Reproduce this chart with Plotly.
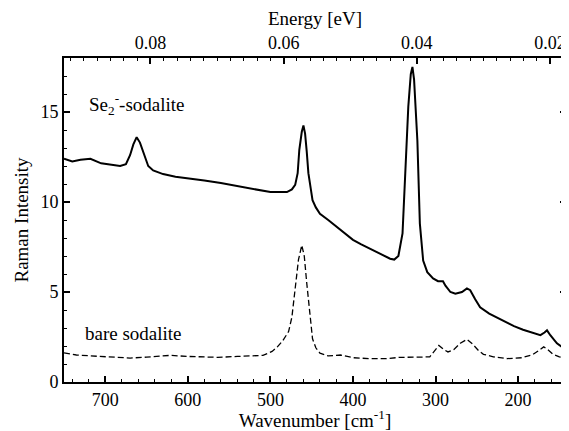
import plotly.graph_objects as go

# Se2- sodalite (solid)
se_wn = [750, 740, 730, 718, 705, 690, 682, 675, 670, 666, 662, 658, 653, 648, 642, 630, 615, 597,
         580, 560, 537, 520, 500, 480, 474, 470, 467, 465, 462, 460, 458, 456, 454, 451, 449, 445,
         440, 430, 419, 410, 400, 390, 379, 365, 355, 350, 345, 340, 337, 333, 330, 328, 326, 324,
         322, 319, 315, 310, 303, 297, 291, 288, 282, 276, 268, 262, 258, 252, 246, 235, 218, 205,
         194, 180, 173, 168, 165, 161, 157, 153, 147, 142]
se_int = [12.4, 12.25, 12.35, 12.4, 12.15, 12.05, 12.0, 12.1, 12.6, 13.2, 13.6, 13.3, 12.6, 12.0, 11.75,
          11.55, 11.4, 11.3, 11.2, 11.05, 10.85, 10.7, 10.55, 10.55, 10.7, 10.95, 11.6, 12.9, 13.9, 14.25,
          13.8, 12.8, 11.6, 10.7, 10.1, 9.7, 9.35, 9.0, 8.6, 8.25, 7.9, 7.65, 7.4, 7.05, 6.85, 6.8, 7.0,
          8.25, 11.2, 15.3, 17.1, 17.5, 16.8, 15.0, 13.4, 8.8, 6.75, 6.1, 5.75, 5.6, 5.6, 5.35, 5.0, 4.9,
          5.0, 5.2, 5.1, 4.6, 4.15, 3.8, 3.4, 3.1, 2.9, 2.7, 2.6, 2.75, 2.87, 2.6, 2.4, 2.15, 1.95, 1.75]

# bare sodalite (dashed)
bare_wn = [750, 735, 710, 690, 670, 650, 621, 600, 580, 564, 540, 509, 498, 492, 485, 478, 474, 470,
           466, 462, 459, 456, 452, 449, 445, 440, 430, 415, 400, 380, 360, 343, 320, 307, 300, 296,
           290, 285, 278, 270, 262, 255, 248, 242, 230, 213, 195, 182, 175, 169, 164, 158, 150, 142]
bare_int = [1.62, 1.5, 1.43, 1.38, 1.33, 1.38, 1.48, 1.42, 1.38, 1.37, 1.42, 1.48, 1.7, 1.93, 2.3, 2.8,
            3.6, 5.25, 6.8, 7.6, 7.0, 5.5, 3.6, 2.4, 1.9, 1.6, 1.45, 1.5, 1.35, 1.3, 1.3, 1.37, 1.38,
            1.4, 1.8, 2.03, 1.8, 1.67, 1.8, 2.15, 2.37, 2.1, 1.75, 1.54, 1.4, 1.3, 1.35, 1.53, 1.75,
            1.95, 1.8, 1.55, 1.4, 1.3]

x_ticks = [700, 600, 500, 400, 300, 200]
y_ticks = [0, 5, 10, 15]
e_ticks = [0.08, 0.06, 0.04, 0.02]
e_labels = ["0.08", "0.06", "0.04", "0.02"]
EV_PER_CM = 0.00012398
x_range = [750, 142]

FONT = "Liberation Serif"
fig = go.Figure()
fig.add_trace(go.Scatter(x=se_wn, y=se_int, mode="lines",
                         line=dict(color="black", width=2), showlegend=False))
fig.add_trace(go.Scatter(x=bare_wn, y=bare_int, mode="lines",
                         line=dict(color="black", width=1.3, dash="6px,3px"), showlegend=False))
# invisible trace to activate top axis
fig.add_trace(go.Scatter(x=[x_range[0] * EV_PER_CM], y=[0], xaxis="x2", mode="markers",
                         marker=dict(opacity=0), showlegend=False, hoverinfo="skip"))

fig.add_annotation(x=722, y=15.4, xref="x", yref="y", xanchor="left", yanchor="middle",
                   text="Se<sub>2</sub><sup>-</sup>-sodalite", showarrow=False,
                   font=dict(family=FONT, size=19, color="black"))
fig.add_annotation(x=727, y=2.7, xref="x", yref="y", xanchor="left", yanchor="middle",
                   text="bare sodalite", showarrow=False,
                   font=dict(family=FONT, size=19, color="black"))

axis_font = dict(family=FONT, size=19, color="black")
tick_font = dict(family=FONT, size=18, color="black")
fig.update_layout(
    width=561, height=423,
    margin=dict(l=56, r=3, t=50, b=49),
    paper_bgcolor="white", plot_bgcolor="white",
    font=axis_font,
    xaxis=dict(range=x_range, tickvals=x_ticks, showgrid=False, zeroline=False,
               showline=True, linecolor="black", linewidth=2, mirror=False,
               ticks="inside", ticklen=6, tickwidth=1.5, tickcolor="black",
               minor=dict(dtick=20, tick0=0, ticks="inside", ticklen=3, tickcolor="black", tickwidth=1),
               title=dict(text="Wavenumber [cm<sup>-1</sup>]", font=axis_font, standoff=7),
               tickfont=tick_font, automargin=False),
    xaxis2=dict(overlaying="x", side="top",
                range=[x_range[0] * EV_PER_CM, x_range[1] * EV_PER_CM],
                tickvals=e_ticks, ticktext=e_labels, showgrid=False, zeroline=False,
                showline=True, linecolor="black", linewidth=2,
                ticks="inside", ticklen=6, tickwidth=1.5, tickcolor="black",
                minor=dict(dtick=0.002, tick0=0, ticks="inside", ticklen=3, tickcolor="black", tickwidth=1),
                title=dict(text="Energy [eV]", font=axis_font, standoff=5),
                tickfont=tick_font, automargin=False),
    yaxis=dict(range=[0, 18], tickvals=y_ticks, showgrid=False, zeroline=False,
               showline=True, linecolor="black", linewidth=2, mirror="ticks",
               ticks="inside", ticklen=6, tickwidth=1.5, tickcolor="black",
               minor=dict(dtick=1, ticks="inside", ticklen=3, tickcolor="black", tickwidth=1),
               title=dict(text="Raman Intensity", font=axis_font, standoff=7),
               tickfont=tick_font, automargin=False),
)
fig.write_html("out.html")
